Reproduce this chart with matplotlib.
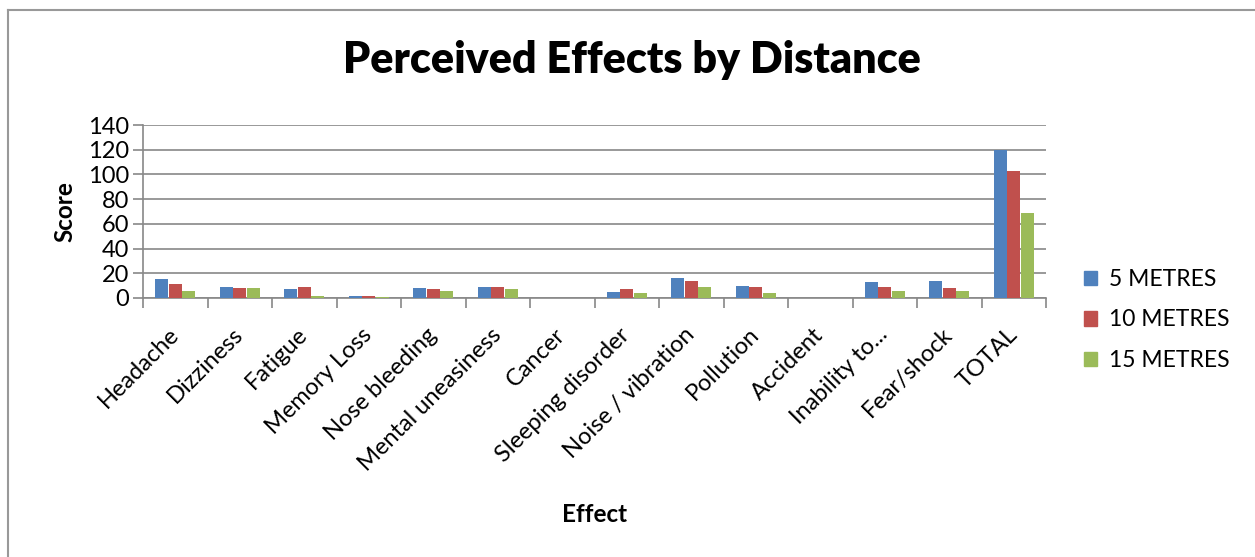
import numpy as np
import matplotlib
matplotlib.use("Agg")
import matplotlib.pyplot as plt
from matplotlib.lines import Line2D

plt.rcParams['font.family'] = ['Lato', 'DejaVu Sans']

# data
effects = ['Headache', 'Dizziness', 'Fatigue', 'Memory Loss', 'Nose bleeding',
           'Mental uneasiness', 'Cancer', 'Sleeping disorder', 'Noise / vibration',
           'Pollution', 'Accident', 'Inability to...', 'Fear/shock', 'TOTAL']
m5 = [15, 9, 7, 2, 8, 9, 0, 5, 16, 10, 0, 13, 14, 120]
m10 = [11, 8, 9, 2, 7, 9, 0, 7, 14, 9, 0, 9, 8, 103]
m15 = [6, 8, 2, 1, 6, 7, 0, 4, 9, 4, 0, 6, 6, 69]
series = ['5 METRES', '10 METRES', '15 METRES']
colors = ['#4F81BD', '#C0504D', '#9BBB59']
yticks = [0, 20, 40, 60, 80, 100, 120, 140]

W, H = 1255, 557
fig = plt.figure(figsize=(W / 100, H / 100), dpi=100)
ax = fig.add_axes([143 / W, 1 - 298 / H, (1046 - 143) / W, (298 - 125) / H])

x = np.arange(len(effects))
bw = 0.2
gap = 0.01
for i, (vals, c, lab) in enumerate(zip([m5, m10, m15], colors, series)):
    ax.bar(x + (i - 1) * (bw + gap), vals, bw, color=c, label=lab, zorder=3)

ax.set_xlim(-0.5, len(effects) - 0.5)
ax.set_ylim(0, 140)
ax.set_yticks(yticks)
ax.set_yticklabels([str(v) for v in yticks], fontsize=17)
ax.yaxis.grid(True, color='#888888', linewidth=1.2, zorder=0)
ax.set_axisbelow(True)

ax.set_xticks(np.arange(len(effects) + 1) - 0.5, minor=False)
ax.set_xticklabels([])
ax.set_xticks(x, minor=True)
ax.set_xticklabels(effects, minor=True, rotation=45, ha='right', va='center',
                   rotation_mode='anchor', fontsize=17)
ax.tick_params(axis='x', which='minor', length=0, pad=24)
ax.tick_params(axis='x', which='major', length=7, color='#888888', width=1.2)
ax.tick_params(axis='y', length=7, color='#888888', width=1.2, pad=3)

for s in ['top', 'right']:
    ax.spines[s].set_visible(False)
for s in ['left', 'bottom']:
    ax.spines[s].set_color('#888888')
    ax.spines[s].set_linewidth(1.2)

ax.set_ylabel('Score', fontsize=17.5, fontweight='bold', labelpad=8)
fig.text(595 / W, 1 - 515 / H, 'Effect', fontsize=17.5, fontweight='bold',
         ha='center', va='center')
fig.text(632 / W, 1 - 60 / H, 'Perceived Effects by Distance', fontsize=31,
         fontweight='heavy', ha='center', va='center')

handles = [plt.Rectangle((0, 0), 1, 1, color=c) for c in colors]
fig.legend(handles, series, loc='center left', bbox_to_anchor=(1063 / W, 1 - 320 / H),
           frameon=False, fontsize=16.5, handlelength=0.6, handleheight=0.6,
           handletextpad=0.5, labelspacing=0.85)

# outer chart border (top and left edges only visible)
fig.add_artist(Line2D([8 / W, 1], [1 - 10 / H, 1 - 10 / H], color='#999999', lw=1.5))
fig.add_artist(Line2D([8 / W, 8 / W], [0, 1 - 10 / H], color='#999999', lw=1.5))

fig.savefig('out.png', dpi=100)
